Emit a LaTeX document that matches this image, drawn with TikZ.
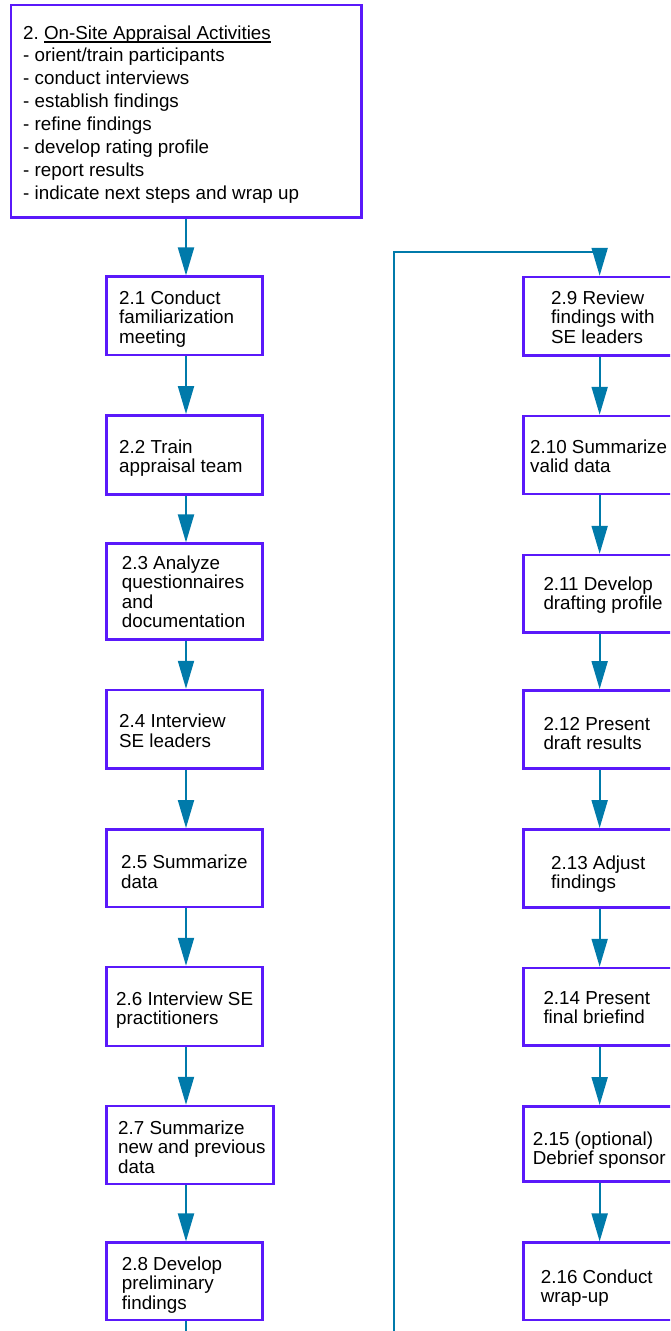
\documentclass[tikz,border=0pt]{standalone}
\usepackage{fontspec}
\setmainfont{Liberation Sans}
\usetikzlibrary{arrows.meta}

\definecolor{boxedge}{RGB}{90,25,250}
\definecolor{flowblue}{RGB}{0,122,170}

% left-aligned stack of lines, baseline on the first line
\newcommand{\boxlines}[1]{\begin{tabular}[t]{@{}l@{}}#1\end{tabular}}
% underline that runs just under the baseline
\newcommand{\baseuline}[1]{\setbox0\hbox{#1}\rlap{\rule[-3.6pt]{\wd0}{1.6pt}}\box0}

\tikzset{
  procbox/.style={draw=boxedge, line width=2.5pt, fill=white, rectangle, inner sep=0pt},
  boxlabel/.style={anchor=base west, inner sep=0pt, font=\fontsize{18.8}{19.5}\selectfont},
  headlabel/.style={anchor=base west, inner sep=0pt, font=\fontsize{18.8}{22.86}\selectfont},
  flow/.style={draw=flowblue, line width=2pt, -{Triangle[length=28pt,width=16pt]}},
}

% #1 name, #2-#5 left/top/right/bottom of the frame, #6/#7 start of the first baseline, #8 text
\newcommand{\procstep}[8]{%
  \node[procbox, minimum width={#4-#2}, minimum height={#5-#3}] (#1) at ({(#2+#4)/2},{(#3+#5)/2}) {};
  \node[boxlabel] (#1t) at (#6,#7) {\boxlines{#8}};
}

\begin{document}
\begin{tikzpicture}[x=1pt, y=-1pt]
\useasboundingbox (0,0) rectangle (670,1331);
\clip (0,0) rectangle (670,1331);
\fill[white] (0,0) rectangle (670,1331);

% overview box
\node[procbox, minimum width=350.7, minimum height=212.3] (head) at (186.35,111.15) {};
\node[headlabel] (headt) at (23,39) {\boxlines{2.\ \baseuline{On-Site Appraisal Activities}\\
- orient/train participants\\
- conduct interviews\\
- establish findings\\
- refine findings\\
- develop rating profile\\
- report results\\
- indicate next steps and wrap up}};

% left column
\procstep{b21}{106.7}{276.7}{262.7}{355}{119}{304.3}{2.1 Conduct\\familiarization\\meeting}
\procstep{b22}{106.7}{415.3}{262.7}{494.3}{119}{453.3}{2.2 Train\\appraisal team}
\procstep{b23}{106.7}{543.7}{262.7}{639.7}{121.7}{569}{2.3 Analyze\\questionnaires\\and\\documentation}
\procstep{b24}{106.7}{690}{262.7}{768.3}{119}{727.7}{2.4 Interview\\SE leaders}
\procstep{b25}{106.7}{829.3}{262.7}{907}{121}{868.7}{2.5 Summarize\\data}
\procstep{b26}{106.7}{967}{262.7}{1046}{116}{1005}{2.6 Interview SE\\practitioners}
\procstep{b27}{106.7}{1106}{273.3}{1184}{118}{1134.3}{2.7 Summarize\\new and previous\\data}
\procstep{b28}{106.7}{1242.7}{262.7}{1320}{121.7}{1270}{2.8 Develop\\preliminary\\findings}

% right column
\procstep{b29}{523.3}{277}{676}{355.7}{551}{304.3}{2.9 Review\\findings with\\SE leaders}
\procstep{b210}{523.3}{416}{676}{494}{530}{453.3}{2.10 Summarize\\valid data}
\procstep{b211}{523.3}{555}{676}{632.3}{543.3}{590}{2.11 Develop\\drafting profile}
\procstep{b212}{523.3}{690.3}{676}{768.3}{543.3}{730}{2.12 Present\\draft results}
\procstep{b213}{523.3}{829.3}{676}{907.3}{551}{869}{2.13 Adjust\\findings}
\procstep{b214}{523.3}{968}{676}{1045.7}{543.3}{1004.3}{2.14 Present\\final briefind}
\procstep{b215}{523.3}{1106.3}{676}{1181.3}{532.7}{1145}{2.15 (optional)\\Debrief sponsor}
\procstep{b216}{523.3}{1242.7}{676}{1320}{540.7}{1283.3}{2.16 Conduct\\wrap-up}

% connectors
\coordinate (colL) at (186,0);
\draw[flow] (head.south -| colL) -- (b21.north -| colL);
\draw[flow] (b21.south -| colL) -- (b22.north -| colL);
\draw[flow] (b22.south -| colL) -- (b23.north -| colL);
\draw[flow] (b23.south -| colL) -- (b24.north -| colL);
\draw[flow] (b24.south -| colL) -- (b25.north -| colL);
\draw[flow] (b25.south -| colL) -- (b26.north -| colL);
\draw[flow] (b26.south -| colL) -- (b27.north -| colL);
\draw[flow] (b27.south -| colL) -- (b28.north -| colL);

% return path from 2.8 round to 2.9
\coordinate (dropL) at (186,1360);
\coordinate (dropR) at (394.3,1360);
\coordinate (riseT) at (394.3,252.3);
\draw[flow] (b28.south -| colL) -- (dropL) -- (dropR) -- (riseT) -| (b29.north);

\draw[flow] (b29.south) -- (b210.north);
\draw[flow] (b210.south) -- (b211.north);
\draw[flow] (b211.south) -- (b212.north);
\draw[flow] (b212.south) -- (b213.north);
\draw[flow] (b213.south) -- (b214.north);
\draw[flow] (b214.south) -- (b215.north);
\draw[flow] (b215.south) -- (b216.north);
\end{tikzpicture}
\end{document}
